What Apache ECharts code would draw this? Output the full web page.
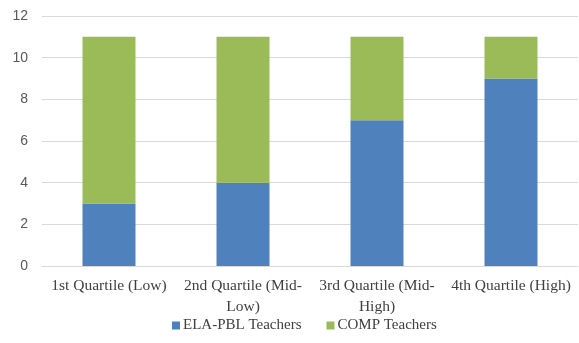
<!DOCTYPE html>
<html><head><meta charset="utf-8">
<script src="https://cdn.jsdelivr.net/npm/echarts@6/dist/echarts.min.js"></script>
<style>html,body{margin:0;padding:0;background:#fff}#c{width:579px;height:343px}</style>
</head><body><div id="c"></div>
<script>
const categories = ["1st Quartile (Low)", "2nd Quartile (Mid-\nLow)", "3rd Quartile (Mid-\nHigh)", "4th Quartile (High)"];
const elaPbl = [3, 4, 7, 9];
const comp = [8, 7, 4, 2];
const seriesNames = ["ELA-PBL Teachers", "COMP Teachers"];
const chart = echarts.init(document.getElementById('c'));
chart.setOption({
  animation: false,
  grid: {left: 42, right: 1, top: 16, bottom: 77, containLabel: false},
  legend: {
    bottom: 5, left: 167, itemWidth: 8, itemHeight: 8, itemGap: 25,
    icon: 'rect',
    textStyle: {fontFamily: 'Liberation Serif', fontSize: 15, color: '#404040', padding: [0, 0, 0, -2]}
  },
  xAxis: {
    type: 'category', data: categories,
    axisLine: {lineStyle: {color: '#d9d9d9'}},
    axisTick: {show: false},
    axisLabel: {fontFamily: 'Liberation Serif', fontSize: 15.5, color: '#404040', margin: 10, lineHeight: 20.5, interval: 0}
  },
  yAxis: {
    type: 'value', min: 0, max: 12, interval: 2,
    axisLine: {show: false}, axisTick: {show: false},
    splitLine: {lineStyle: {color: '#d9d9d9'}},
    axisLabel: {fontFamily: 'Liberation Sans', fontSize: 14, color: '#595959', margin: 14}
  },
  series: [
    {name: seriesNames[0], type: 'bar', stack: 's', data: elaPbl, barWidth: 53, itemStyle: {color: '#4F81BD'}},
    {name: seriesNames[1], type: 'bar', stack: 's', data: comp, barWidth: 53, itemStyle: {color: '#9BBB59'}}
  ]
});
</script></body></html>
